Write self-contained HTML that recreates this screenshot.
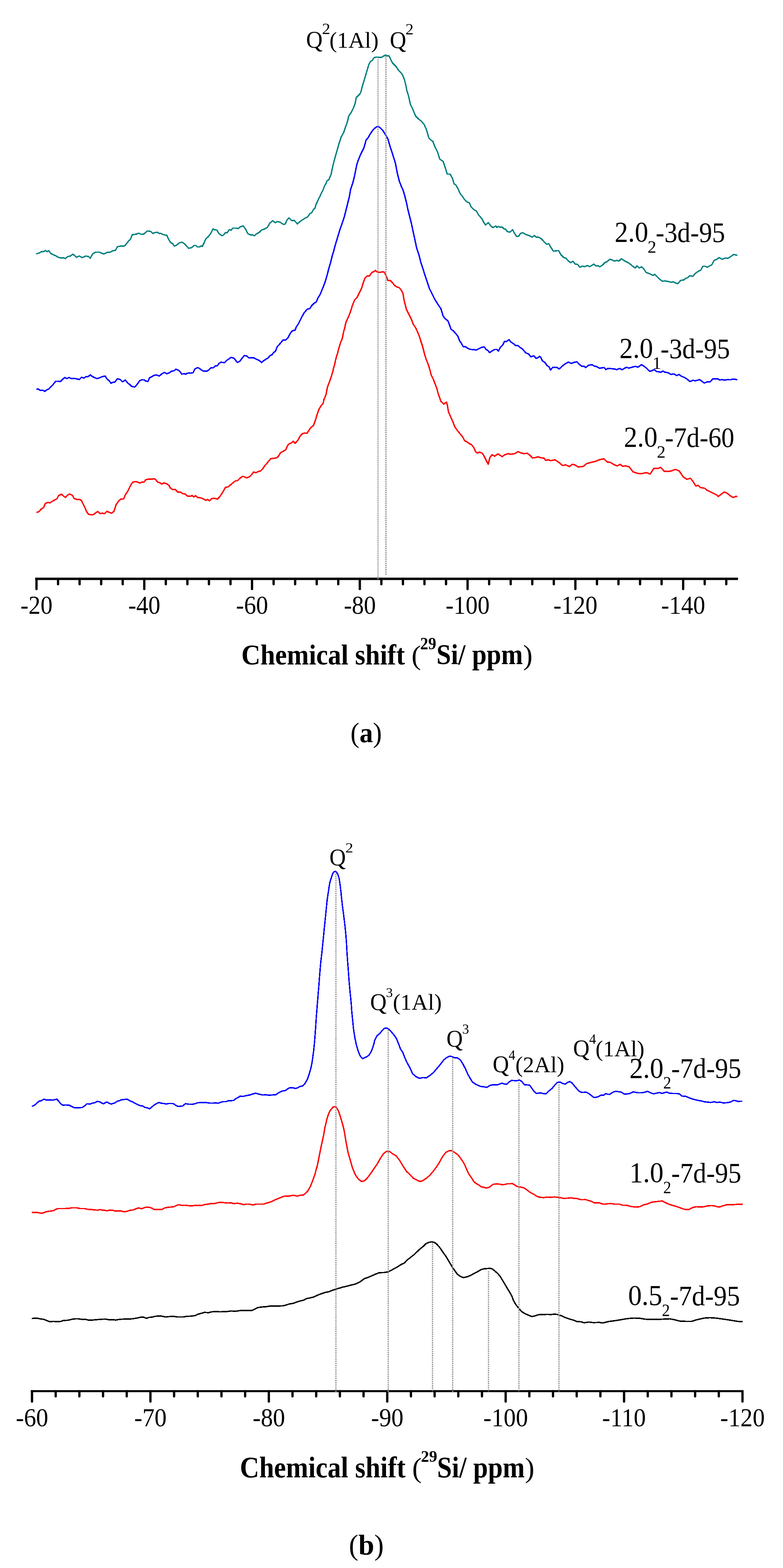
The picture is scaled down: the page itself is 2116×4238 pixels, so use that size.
<!DOCTYPE html>
<html><head><meta charset="utf-8"><title>29Si NMR spectra</title>
<style>html,body{margin:0;padding:0;background:#fff;}svg{display:block;}</style></head>
<body><svg width="2116" height="4238" viewBox="0 0 2116 4238">
<rect width="2116" height="4238" fill="#fff"/>
<line x1="95.1" y1="1564.4" x2="1994.4" y2="1564.4" stroke="#000" stroke-width="6.5" stroke-linecap="butt"/>
<line x1="98.6" y1="1564.4" x2="98.6" y2="1591.9" stroke="#000" stroke-width="6.2" stroke-linecap="round"/>
<line x1="389.9" y1="1564.4" x2="389.9" y2="1591.9" stroke="#000" stroke-width="6.2" stroke-linecap="round"/>
<line x1="681.1" y1="1564.4" x2="681.1" y2="1591.9" stroke="#000" stroke-width="6.2" stroke-linecap="round"/>
<line x1="972.4" y1="1564.4" x2="972.4" y2="1591.9" stroke="#000" stroke-width="6.2" stroke-linecap="round"/>
<line x1="1263.6" y1="1564.4" x2="1263.6" y2="1591.9" stroke="#000" stroke-width="6.2" stroke-linecap="round"/>
<line x1="1554.9" y1="1564.4" x2="1554.9" y2="1591.9" stroke="#000" stroke-width="6.2" stroke-linecap="round"/>
<line x1="1846.2" y1="1564.4" x2="1846.2" y2="1591.9" stroke="#000" stroke-width="6.2" stroke-linecap="round"/>
<line x1="156.9" y1="1564.4" x2="156.9" y2="1578.9" stroke="#000" stroke-width="6.2" stroke-linecap="round"/>
<line x1="215.1" y1="1564.4" x2="215.1" y2="1578.9" stroke="#000" stroke-width="6.2" stroke-linecap="round"/>
<line x1="273.4" y1="1564.4" x2="273.4" y2="1578.9" stroke="#000" stroke-width="6.2" stroke-linecap="round"/>
<line x1="331.6" y1="1564.4" x2="331.6" y2="1578.9" stroke="#000" stroke-width="6.2" stroke-linecap="round"/>
<line x1="448.1" y1="1564.4" x2="448.1" y2="1578.9" stroke="#000" stroke-width="6.2" stroke-linecap="round"/>
<line x1="506.4" y1="1564.4" x2="506.4" y2="1578.9" stroke="#000" stroke-width="6.2" stroke-linecap="round"/>
<line x1="564.6" y1="1564.4" x2="564.6" y2="1578.9" stroke="#000" stroke-width="6.2" stroke-linecap="round"/>
<line x1="622.9" y1="1564.4" x2="622.9" y2="1578.9" stroke="#000" stroke-width="6.2" stroke-linecap="round"/>
<line x1="739.4" y1="1564.4" x2="739.4" y2="1578.9" stroke="#000" stroke-width="6.2" stroke-linecap="round"/>
<line x1="797.6" y1="1564.4" x2="797.6" y2="1578.9" stroke="#000" stroke-width="6.2" stroke-linecap="round"/>
<line x1="855.9" y1="1564.4" x2="855.9" y2="1578.9" stroke="#000" stroke-width="6.2" stroke-linecap="round"/>
<line x1="914.1" y1="1564.4" x2="914.1" y2="1578.9" stroke="#000" stroke-width="6.2" stroke-linecap="round"/>
<line x1="1030.6" y1="1564.4" x2="1030.6" y2="1578.9" stroke="#000" stroke-width="6.2" stroke-linecap="round"/>
<line x1="1088.9" y1="1564.4" x2="1088.9" y2="1578.9" stroke="#000" stroke-width="6.2" stroke-linecap="round"/>
<line x1="1147.1" y1="1564.4" x2="1147.1" y2="1578.9" stroke="#000" stroke-width="6.2" stroke-linecap="round"/>
<line x1="1205.4" y1="1564.4" x2="1205.4" y2="1578.9" stroke="#000" stroke-width="6.2" stroke-linecap="round"/>
<line x1="1321.9" y1="1564.4" x2="1321.9" y2="1578.9" stroke="#000" stroke-width="6.2" stroke-linecap="round"/>
<line x1="1380.1" y1="1564.4" x2="1380.1" y2="1578.9" stroke="#000" stroke-width="6.2" stroke-linecap="round"/>
<line x1="1438.4" y1="1564.4" x2="1438.4" y2="1578.9" stroke="#000" stroke-width="6.2" stroke-linecap="round"/>
<line x1="1496.6" y1="1564.4" x2="1496.6" y2="1578.9" stroke="#000" stroke-width="6.2" stroke-linecap="round"/>
<line x1="1613.2" y1="1564.4" x2="1613.2" y2="1578.9" stroke="#000" stroke-width="6.2" stroke-linecap="round"/>
<line x1="1671.4" y1="1564.4" x2="1671.4" y2="1578.9" stroke="#000" stroke-width="6.2" stroke-linecap="round"/>
<line x1="1729.7" y1="1564.4" x2="1729.7" y2="1578.9" stroke="#000" stroke-width="6.2" stroke-linecap="round"/>
<line x1="1787.9" y1="1564.4" x2="1787.9" y2="1578.9" stroke="#000" stroke-width="6.2" stroke-linecap="round"/>
<line x1="1904.4" y1="1564.4" x2="1904.4" y2="1578.9" stroke="#000" stroke-width="6.2" stroke-linecap="round"/>
<line x1="1962.7" y1="1564.4" x2="1962.7" y2="1578.9" stroke="#000" stroke-width="6.2" stroke-linecap="round"/>
<line x1="83.2" y1="3760.0" x2="2009.0" y2="3760.0" stroke="#000" stroke-width="5.5" stroke-linecap="butt"/>
<line x1="86.5" y1="3760.0" x2="86.5" y2="3788.0" stroke="#000" stroke-width="6.2" stroke-linecap="round"/>
<line x1="406.5" y1="3760.0" x2="406.5" y2="3788.0" stroke="#000" stroke-width="6.2" stroke-linecap="round"/>
<line x1="726.5" y1="3760.0" x2="726.5" y2="3788.0" stroke="#000" stroke-width="6.2" stroke-linecap="round"/>
<line x1="1046.5" y1="3760.0" x2="1046.5" y2="3788.0" stroke="#000" stroke-width="6.2" stroke-linecap="round"/>
<line x1="1366.5" y1="3760.0" x2="1366.5" y2="3788.0" stroke="#000" stroke-width="6.2" stroke-linecap="round"/>
<line x1="1686.5" y1="3760.0" x2="1686.5" y2="3788.0" stroke="#000" stroke-width="6.2" stroke-linecap="round"/>
<line x1="2006.5" y1="3760.0" x2="2006.5" y2="3788.0" stroke="#000" stroke-width="6.2" stroke-linecap="round"/>
<line x1="150.5" y1="3760.0" x2="150.5" y2="3774.0" stroke="#000" stroke-width="6.2" stroke-linecap="round"/>
<line x1="214.5" y1="3760.0" x2="214.5" y2="3774.0" stroke="#000" stroke-width="6.2" stroke-linecap="round"/>
<line x1="278.5" y1="3760.0" x2="278.5" y2="3774.0" stroke="#000" stroke-width="6.2" stroke-linecap="round"/>
<line x1="342.5" y1="3760.0" x2="342.5" y2="3774.0" stroke="#000" stroke-width="6.2" stroke-linecap="round"/>
<line x1="470.5" y1="3760.0" x2="470.5" y2="3774.0" stroke="#000" stroke-width="6.2" stroke-linecap="round"/>
<line x1="534.5" y1="3760.0" x2="534.5" y2="3774.0" stroke="#000" stroke-width="6.2" stroke-linecap="round"/>
<line x1="598.5" y1="3760.0" x2="598.5" y2="3774.0" stroke="#000" stroke-width="6.2" stroke-linecap="round"/>
<line x1="662.5" y1="3760.0" x2="662.5" y2="3774.0" stroke="#000" stroke-width="6.2" stroke-linecap="round"/>
<line x1="790.5" y1="3760.0" x2="790.5" y2="3774.0" stroke="#000" stroke-width="6.2" stroke-linecap="round"/>
<line x1="854.5" y1="3760.0" x2="854.5" y2="3774.0" stroke="#000" stroke-width="6.2" stroke-linecap="round"/>
<line x1="918.5" y1="3760.0" x2="918.5" y2="3774.0" stroke="#000" stroke-width="6.2" stroke-linecap="round"/>
<line x1="982.5" y1="3760.0" x2="982.5" y2="3774.0" stroke="#000" stroke-width="6.2" stroke-linecap="round"/>
<line x1="1110.5" y1="3760.0" x2="1110.5" y2="3774.0" stroke="#000" stroke-width="6.2" stroke-linecap="round"/>
<line x1="1174.5" y1="3760.0" x2="1174.5" y2="3774.0" stroke="#000" stroke-width="6.2" stroke-linecap="round"/>
<line x1="1238.5" y1="3760.0" x2="1238.5" y2="3774.0" stroke="#000" stroke-width="6.2" stroke-linecap="round"/>
<line x1="1302.5" y1="3760.0" x2="1302.5" y2="3774.0" stroke="#000" stroke-width="6.2" stroke-linecap="round"/>
<line x1="1430.5" y1="3760.0" x2="1430.5" y2="3774.0" stroke="#000" stroke-width="6.2" stroke-linecap="round"/>
<line x1="1494.5" y1="3760.0" x2="1494.5" y2="3774.0" stroke="#000" stroke-width="6.2" stroke-linecap="round"/>
<line x1="1558.5" y1="3760.0" x2="1558.5" y2="3774.0" stroke="#000" stroke-width="6.2" stroke-linecap="round"/>
<line x1="1622.5" y1="3760.0" x2="1622.5" y2="3774.0" stroke="#000" stroke-width="6.2" stroke-linecap="round"/>
<line x1="1750.5" y1="3760.0" x2="1750.5" y2="3774.0" stroke="#000" stroke-width="6.2" stroke-linecap="round"/>
<line x1="1814.5" y1="3760.0" x2="1814.5" y2="3774.0" stroke="#000" stroke-width="6.2" stroke-linecap="round"/>
<line x1="1878.5" y1="3760.0" x2="1878.5" y2="3774.0" stroke="#000" stroke-width="6.2" stroke-linecap="round"/>
<line x1="1942.5" y1="3760.0" x2="1942.5" y2="3774.0" stroke="#000" stroke-width="6.2" stroke-linecap="round"/>
<path d="M97.8 686.2 L105.6 684.0 L113.3 679.6 L118.0 680.2 L122.7 677.1 L127.3 680.2 L132.0 677.8 L136.7 684.6 L144.4 688.6 L152.2 692.1 L156.9 695.2 L163.1 697.0 L172.4 697.0 L177.1 698.9 L181.8 693.9 L189.5 692.1 L197.3 687.1 L206.6 695.2 L214.4 692.1 L222.2 696.4 L231.5 692.1 L239.3 693.3 L244.0 697.7 L250.2 686.5 L258.0 681.5 L268.8 681.5 L273.5 684.0 L281.3 686.5 L289.1 682.4 L298.4 681.5 L304.6 677.8 L312.4 676.5 L317.1 667.2 L326.4 664.7 L335.7 664.7 L338.8 662.8 L348.2 650.4 L352.8 646.0 L357.5 634.2 L368.4 633.0 L374.6 630.2 L382.4 633.6 L388.6 632.7 L397.9 624.3 L407.3 625.5 L413.5 631.1 L418.1 628.6 L425.9 628.0 L430.6 631.1 L433.7 630.5 L441.5 634.2 L450.8 636.1 L457.0 649.1 L461.7 656.0 L466.4 658.5 L471.0 665.3 L477.2 662.8 L483.5 657.5 L486.2 655.8 L492.4 654.9 L498.7 658.9 L503.3 664.2 L509.5 671.0 L517.3 669.5 L525.1 663.3 L529.8 663.6 L533.5 667.6 L539.1 667.3 L543.8 664.8 L546.9 665.8 L551.5 656.4 L556.2 645.5 L562.4 640.2 L570.2 630.0 L575.8 618.5 L579.5 621.0 L585.8 621.6 L592.0 631.5 L599.8 637.1 L604.4 634.7 L609.1 629.1 L613.7 629.1 L620.0 620.3 L624.6 622.2 L629.3 616.6 L638.6 616.6 L643.3 617.9 L649.5 612.9 L657.3 610.4 L663.5 619.1 L669.7 631.5 L677.5 635.3 L682.2 634.7 L687.8 637.1 L691.5 633.1 L699.3 629.1 L707.1 621.6 L713.3 619.7 L722.6 614.7 L728.8 603.5 L736.6 596.7 L744.4 602.0 L749.1 598.9 L756.8 600.4 L766.2 606.7 L770.8 605.4 L775.5 594.8 L781.1 588.9 L787.9 595.8 L795.7 596.1 L803.5 605.1 L812.8 597.3 L822.1 591.1 L831.5 586.1 L837.7 577.1 L842.4 574.9 L847.0 566.2 L849.9 563.9 L852.0 561.4 L853.0 555.8 L854.8 550.9 L857.3 545.9 L859.8 540.3 L861.7 535.9 L864.2 531.6 L866.7 526.0 L868.5 521.6 L871.6 516.0 L874.1 511.1 L876.0 504.8 L878.5 499.9 L881.6 494.9 L882.8 489.9 L885.9 487.4 L889.1 485.6 L890.9 480.0 L892.8 475.6 L894.7 471.2 L899.1 450.4 L903.8 431.7 L910.0 409.9 L916.2 388.2 L922.4 369.5 L928.6 358.6 L933.3 344.6 L938.0 332.2 L942.6 313.5 L948.9 304.2 L955.1 291.7 L959.8 279.3 L962.9 263.7 L972.2 254.4 L975.3 248.2 L978.4 235.8 L983.1 220.2 L987.7 204.7 L992.4 189.1 L997.1 173.5 L1000.2 167.3 L1006.4 162.7 L1011.1 155.5 L1017.3 154.3 L1023.5 154.9 L1031.3 154.9 L1036.0 151.8 L1042.2 148.7 L1046.8 151.2 L1051.5 151.2 L1054.6 158.0 L1060.8 170.4 L1070.2 179.8 L1076.4 189.1 L1084.2 196.9 L1088.8 204.7 L1093.5 217.1 L1096.6 229.5 L1099.7 245.1 L1104.4 260.6 L1109.1 282.4 L1115.3 294.9 L1123.0 313.5 L1132.4 322.8 L1138.6 327.5 L1146.4 336.8 L1152.6 350.8 L1158.8 372.6 L1165.0 378.8 L1169.7 381.9 L1174.4 394.4 L1182.1 409.9 L1188.4 430.2 L1197.7 436.4 L1202.4 450.4 L1208.6 470.6 L1216.4 470.6 L1222.6 481.5 L1227.2 497.0 L1231.9 500.1 L1238.9 512.4 L1243.5 523.3 L1249.8 531.1 L1256.0 540.4 L1262.2 545.7 L1268.4 548.2 L1273.1 559.1 L1280.9 566.9 L1287.1 570.0 L1293.3 580.9 L1302.6 591.7 L1307.3 601.1 L1312.0 607.9 L1319.8 601.7 L1327.5 612.0 L1332.2 615.1 L1340.0 611.0 L1343.1 615.1 L1346.2 612.0 L1352.4 614.4 L1357.1 613.5 L1361.7 618.2 L1366.4 619.7 L1371.1 626.0 L1378.8 627.5 L1385.1 620.4 L1389.7 629.1 L1396.0 639.3 L1402.2 637.8 L1406.8 630.6 L1413.1 629.1 L1420.8 633.7 L1430.2 636.8 L1437.9 640.9 L1444.2 636.8 L1448.8 640.9 L1455.1 640.9 L1462.8 645.2 L1470.6 653.3 L1476.8 660.2 L1483.0 658.6 L1489.3 669.5 L1495.5 678.8 L1503.3 677.9 L1509.5 677.3 L1515.7 688.2 L1523.5 695.9 L1529.7 698.1 L1535.9 705.3 L1542.1 709.9 L1548.4 706.2 L1554.6 713.7 L1560.8 714.6 L1567.0 722.4 L1573.3 719.3 L1579.5 720.8 L1587.2 717.7 L1593.5 720.8 L1604.7 713.9 L1610.9 718.9 L1615.6 718.0 L1621.2 721.1 L1628.0 716.4 L1634.2 710.2 L1640.4 707.1 L1648.2 700.9 L1654.4 702.4 L1659.1 705.5 L1666.9 704.0 L1673.1 705.5 L1679.3 699.3 L1684.0 702.4 L1690.2 706.5 L1698.0 710.2 L1702.6 713.3 L1708.9 718.9 L1716.6 724.2 L1721.3 718.9 L1727.5 724.2 L1733.7 721.1 L1740.0 727.3 L1746.2 736.6 L1755.5 739.8 L1764.9 744.4 L1769.5 741.3 L1775.7 747.5 L1783.5 755.3 L1789.7 760.0 L1796.0 759.3 L1805.3 760.6 L1814.6 763.1 L1819.3 761.5 L1825.5 764.6 L1831.7 766.8 L1839.5 757.8 L1847.3 756.9 L1853.5 752.2 L1858.2 750.6 L1864.4 745.3 L1872.2 746.9 L1879.9 738.2 L1889.3 732.0 L1893.9 730.4 L1899.2 719.5 L1906.4 719.5 L1911.0 722.6 L1917.3 718.9 L1923.5 715.8 L1929.7 704.0 L1935.9 701.5 L1943.7 696.2 L1951.5 700.9 L1960.8 697.1 L1967.0 698.4 L1976.4 692.2 L1982.6 687.8 L1988.8 689.1 L1992.5 690.3" fill="none" stroke="#008080" stroke-width="3.7" stroke-linejoin="round" stroke-linecap="butt" shape-rendering="crispEdges"/>
<path d="M98.7 1053.1 L102.4 1050.6 L108.7 1055.3 L114.9 1054.4 L121.1 1057.8 L127.3 1053.1 L132.0 1051.3 L136.7 1046.0 L141.3 1041.9 L145.4 1036.6 L150.7 1030.4 L156.9 1030.4 L163.1 1031.4 L169.3 1025.1 L175.5 1020.2 L180.2 1023.6 L186.4 1020.2 L192.6 1023.3 L198.9 1022.6 L205.1 1023.6 L214.4 1025.8 L220.6 1019.5 L226.9 1022.0 L233.1 1017.7 L237.7 1018.0 L244.0 1013.3 L248.6 1017.0 L254.9 1020.2 L262.6 1023.6 L268.8 1021.1 L276.6 1018.0 L284.4 1016.4 L289.1 1024.2 L295.3 1029.5 L300.0 1036.0 L304.6 1033.5 L310.8 1032.6 L317.1 1023.6 L324.8 1025.8 L331.1 1032.0 L338.8 1027.3 L345.1 1035.1 L351.3 1039.8 L355.9 1044.4 L363.7 1046.0 L369.9 1039.8 L377.7 1028.9 L383.9 1026.4 L388.6 1026.4 L393.3 1029.5 L399.5 1031.4 L404.2 1021.1 L410.4 1018.0 L415.0 1014.9 L422.8 1013.3 L430.6 1016.4 L436.8 1010.8 L444.6 1006.5 L450.8 1010.2 L458.6 1007.1 L463.3 1003.4 L469.5 1002.4 L475.7 997.8 L483.5 1001.5 L486.2 1004.0 L490.9 1010.8 L498.7 1010.2 L502.4 1011.7 L504.9 1009.2 L511.1 1008.0 L515.8 1008.6 L522.0 1007.1 L526.7 997.1 L532.9 994.0 L537.5 994.6 L543.8 999.6 L550.0 1003.3 L559.3 1003.3 L565.5 998.7 L570.2 994.0 L574.9 994.6 L579.5 991.5 L582.6 989.0 L587.3 988.4 L592.0 982.2 L596.6 979.1 L602.9 979.7 L607.5 979.7 L612.2 974.4 L616.9 971.3 L624.6 966.0 L632.4 968.2 L637.1 974.4 L641.7 979.7 L648.0 976.6 L654.2 968.2 L660.4 961.0 L666.6 962.0 L672.8 967.6 L679.1 966.6 L685.3 966.6 L691.5 970.4 L697.7 972.8 L702.4 976.0 L707.1 979.7 L713.3 974.4 L719.5 970.4 L725.7 966.6 L728.8 962.0 L735.1 958.8 L739.7 952.6 L744.4 949.5 L749.1 937.1 L753.7 932.4 L761.5 923.1 L764.6 919.3 L772.4 919.0 L778.6 912.2 L783.3 902.9 L786.4 898.2 L791.0 893.5 L797.3 892.9 L800.4 884.2 L806.6 874.9 L811.3 865.5 L815.9 856.2 L822.1 845.3 L829.9 836.0 L837.7 833.5 L842.4 826.0 L848.6 819.8 L854.8 815.8 L859.5 804.9 L865.7 794.9 L874.2 773.7 L878.9 761.3 L883.5 745.7 L888.2 727.1 L892.9 711.5 L897.5 692.8 L902.2 677.3 L905.3 664.9 L910.0 649.3 L914.7 633.7 L919.3 618.2 L924.0 605.8 L930.2 587.1 L934.9 568.4 L939.5 549.8 L944.2 531.1 L947.3 512.4 L953.5 493.9 L958.2 475.3 L961.3 459.7 L964.4 444.2 L967.5 434.8 L973.7 419.3 L983.1 400.6 L989.3 378.8 L995.5 371.1 L1001.7 360.2 L1009.5 349.3 L1017.3 343.1 L1022.0 342.1 L1026.6 344.6 L1034.4 352.4 L1042.2 364.8 L1048.4 375.7 L1054.6 397.5 L1060.8 416.2 L1068.6 441.0 L1073.3 465.9 L1079.5 490.8 L1085.7 506.4 L1088.8 512.4 L1093.5 528.0 L1098.2 546.7 L1102.8 568.4 L1107.5 587.1 L1112.2 605.8 L1116.8 627.5 L1121.5 649.3 L1126.2 671.1 L1132.4 689.7 L1137.0 708.4 L1143.3 727.1 L1147.9 742.6 L1154.2 761.3 L1160.4 779.9 L1166.6 792.4 L1174.4 807.9 L1182.1 820.4 L1191.5 834.4 L1197.7 854.6 L1202.4 860.8 L1210.1 867.0 L1210.9 868.2 L1214.0 876.0 L1218.7 890.0 L1224.9 894.0 L1231.1 900.9 L1237.3 908.6 L1242.0 921.1 L1246.7 927.3 L1251.3 936.6 L1257.5 936.6 L1263.8 941.3 L1271.5 944.4 L1280.9 945.0 L1287.1 946.0 L1293.3 942.9 L1301.1 939.1 L1308.9 937.6 L1313.5 944.4 L1318.2 946.9 L1322.9 953.1 L1330.6 948.1 L1336.9 944.4 L1343.1 944.4 L1346.8 949.1 L1352.4 938.2 L1358.6 932.6 L1363.3 922.6 L1369.5 922.6 L1375.7 918.0 L1380.4 924.2 L1386.6 928.2 L1394.4 934.5 L1399.1 933.5 L1405.3 939.1 L1411.5 942.9 L1420.8 953.7 L1428.6 956.9 L1434.8 964.6 L1442.6 961.5 L1448.8 968.7 L1453.5 966.8 L1458.2 963.1 L1461.3 965.6 L1465.9 975.5 L1472.2 979.3 L1478.4 988.0 L1484.6 992.6 L1487.7 1000.4 L1493.9 992.6 L1504.8 992.6 L1511.0 997.3 L1517.3 991.7 L1525.0 984.9 L1535.9 978.6 L1543.7 982.4 L1551.5 979.3 L1559.3 978.0 L1565.5 984.9 L1573.3 990.5 L1577.9 989.5 L1582.6 993.6 L1590.4 987.3 L1600.0 985.5 L1606.2 989.6 L1612.4 990.8 L1620.2 995.5 L1628.0 993.9 L1632.7 993.3 L1637.3 998.9 L1643.5 995.5 L1651.3 996.4 L1659.1 997.0 L1666.9 998.9 L1674.7 995.8 L1680.9 999.5 L1687.1 995.8 L1693.3 992.7 L1699.5 994.9 L1707.3 992.7 L1716.6 990.2 L1724.4 992.4 L1733.7 985.5 L1743.1 991.8 L1749.3 997.0 L1755.5 1003.6 L1761.7 1002.0 L1768.0 998.9 L1774.2 1004.2 L1780.4 1004.8 L1786.6 1006.4 L1791.3 1002.6 L1796.0 1005.8 L1805.3 1007.3 L1813.1 1012.0 L1820.8 1010.4 L1828.6 1015.1 L1834.8 1012.0 L1841.1 1016.6 L1848.8 1019.8 L1856.6 1024.4 L1864.4 1031.3 L1872.2 1028.1 L1879.9 1029.1 L1890.8 1026.0 L1897.0 1030.6 L1903.3 1035.3 L1911.0 1032.2 L1918.8 1032.2 L1926.6 1023.8 L1939.0 1023.8 L1945.3 1026.9 L1951.5 1026.0 L1957.7 1027.5 L1967.0 1026.0 L1973.3 1026.6 L1981.0 1024.4 L1987.2 1025.3 L1992.5 1026.6" fill="none" stroke="#0000ff" stroke-width="3.8" stroke-linejoin="round" stroke-linecap="butt" shape-rendering="crispEdges"/>
<path d="M98.7 1385.5 L105.6 1382.4 L111.8 1375.6 L118.0 1371.5 L122.7 1360.6 L128.9 1358.1 L135.1 1359.1 L141.3 1355.0 L147.5 1351.3 L153.8 1348.2 L158.4 1339.5 L166.2 1335.8 L172.4 1341.4 L177.1 1344.5 L181.8 1338.9 L188.0 1335.1 L195.8 1338.9 L200.4 1347.6 L208.2 1349.8 L216.0 1349.8 L220.6 1353.8 L225.3 1363.7 L230.0 1373.1 L234.6 1384.0 L239.3 1390.2 L248.6 1391.7 L253.3 1390.2 L259.5 1385.5 L264.2 1382.4 L270.4 1388.0 L276.6 1387.1 L282.8 1388.6 L289.1 1381.8 L295.3 1384.9 L301.5 1387.1 L307.7 1382.4 L314.0 1363.7 L321.7 1352.9 L326.4 1349.1 L334.2 1348.2 L338.8 1337.3 L345.1 1328.0 L349.7 1318.6 L354.4 1309.3 L359.1 1303.1 L366.8 1301.5 L371.5 1303.1 L377.7 1305.3 L383.9 1303.1 L390.2 1302.5 L393.3 1296.9 L399.5 1295.3 L405.7 1294.7 L410.4 1295.3 L416.6 1293.8 L421.3 1296.9 L425.9 1303.1 L432.1 1304.7 L436.8 1308.4 L443.0 1305.3 L450.8 1307.8 L457.0 1312.4 L460.1 1318.6 L466.4 1323.3 L474.1 1323.3 L480.4 1330.2 L487.8 1330.0 L494.0 1334.3 L500.2 1335.3 L506.4 1340.6 L514.2 1341.5 L518.9 1339.3 L523.5 1343.0 L528.2 1339.9 L534.4 1344.6 L542.2 1345.5 L550.0 1348.6 L556.2 1352.4 L560.9 1349.9 L566.5 1353.9 L571.8 1347.7 L579.5 1346.8 L587.3 1349.3 L593.5 1343.0 L599.8 1333.7 L604.4 1325.9 L609.1 1317.5 L616.9 1315.7 L623.1 1310.4 L632.4 1302.6 L637.1 1299.5 L641.7 1299.5 L648.0 1293.3 L654.2 1288.0 L660.4 1288.6 L666.6 1291.7 L674.4 1288.6 L679.1 1284.0 L685.3 1275.6 L691.5 1277.7 L697.7 1274.6 L704.0 1273.1 L710.2 1266.8 L716.4 1257.5 L721.1 1252.8 L725.7 1246.6 L731.9 1239.5 L738.2 1239.2 L747.5 1237.3 L752.2 1233.6 L758.4 1223.3 L764.6 1220.2 L772.4 1215.5 L777.0 1204.6 L781.7 1199.3 L787.9 1196.9 L792.6 1192.2 L797.3 1198.4 L805.0 1190.0 L811.3 1178.2 L817.5 1172.0 L823.7 1170.4 L829.9 1171.0 L836.1 1161.1 L840.8 1154.9 L847.0 1150.2 L851.7 1137.8 L856.4 1122.2 L861.0 1108.2 L867.2 1097.3 L873.5 1089.5 L875.3 1080.1 L878.9 1072.0 L881.4 1065.0 L882.9 1055.9 L884.9 1046.8 L887.4 1039.7 L890.5 1031.7 L893.5 1023.6 L896.5 1013.5 L899.5 1004.4 L901.6 994.3 L904.6 984.2 L906.6 974.1 L909.6 963.0 L912.7 952.9 L915.2 942.9 L918.2 932.8 L920.7 924.7 L923.8 918.6 L925.8 910.6 L927.8 900.5 L929.8 892.4 L931.8 886.3 L933.4 877.2 L935.4 870.2 L938.4 863.1 L940.9 858.1 L943.4 852.0 L947.3 842.1 L952.0 826.6 L958.2 811.0 L964.4 804.8 L970.6 792.4 L976.9 779.9 L981.5 764.4 L986.2 751.9 L992.4 745.7 L998.6 745.7 L1004.9 736.4 L1011.1 733.9 L1014.2 730.8 L1018.8 734.8 L1023.5 736.4 L1029.7 735.5 L1036.0 734.8 L1039.1 736.4 L1043.7 745.7 L1048.4 758.2 L1054.6 758.2 L1060.8 764.4 L1065.5 770.6 L1071.7 775.3 L1077.9 776.8 L1082.6 781.5 L1088.8 792.4 L1091.9 811.0 L1095.1 823.5 L1098.2 835.9 L1102.8 845.3 L1107.5 854.6 L1112.2 863.9 L1116.8 876.4 L1123.0 885.7 L1124.9 889.3 L1131.1 903.3 L1135.8 917.3 L1142.0 936.0 L1146.7 954.7 L1151.3 970.2 L1157.5 985.8 L1162.2 1001.3 L1165.3 1013.7 L1171.5 1026.2 L1176.2 1038.6 L1180.9 1051.1 L1184.0 1063.5 L1188.6 1076.0 L1191.8 1085.3 L1199.5 1092.1 L1206.4 1086.8 L1208.9 1094.6 L1212.0 1113.3 L1218.2 1127.3 L1224.4 1141.3 L1229.1 1153.7 L1236.9 1164.6 L1244.6 1173.9 L1250.9 1181.7 L1255.5 1191.0 L1261.7 1194.2 L1268.0 1198.8 L1274.2 1201.9 L1280.4 1209.7 L1285.1 1220.6 L1289.7 1224.6 L1296.0 1222.1 L1303.7 1225.3 L1308.4 1233.0 L1314.6 1245.5 L1319.3 1254.8 L1324.0 1236.1 L1330.2 1229.0 L1336.4 1233.0 L1345.7 1226.8 L1351.9 1230.9 L1357.5 1234.0 L1364.4 1229.0 L1373.7 1226.2 L1379.9 1227.7 L1390.8 1226.2 L1400.2 1220.6 L1406.4 1223.7 L1414.2 1225.9 L1425.0 1225.3 L1431.3 1229.9 L1439.0 1237.7 L1445.3 1237.1 L1454.6 1234.6 L1460.8 1237.1 L1470.1 1238.3 L1474.8 1244.5 L1481.0 1242.4 L1487.2 1244.5 L1488.1 1244.9 L1500.2 1242.9 L1510.3 1249.8 L1520.4 1258.3 L1528.5 1256.2 L1538.6 1261.1 L1546.7 1255.0 L1552.8 1256.2 L1562.9 1262.3 L1577.0 1260.3 L1585.1 1253.0 L1597.3 1249.8 L1609.4 1246.9 L1621.5 1242.1 L1631.6 1240.1 L1641.7 1249.0 L1649.8 1249.8 L1659.9 1256.2 L1668.0 1259.1 L1676.1 1255.0 L1682.2 1260.3 L1690.3 1259.1 L1700.4 1261.9 L1710.5 1275.2 L1722.6 1279.3 L1732.7 1280.5 L1746.9 1277.3 L1757.0 1281.3 L1767.1 1265.9 L1779.2 1265.9 L1785.3 1263.1 L1795.4 1274.0 L1807.5 1274.4 L1815.6 1272.4 L1825.7 1268.4 L1835.8 1273.2 L1845.9 1288.6 L1856.0 1295.5 L1866.2 1292.6 L1874.2 1303.5 L1880.3 1313.7 L1886.4 1311.6 L1892.4 1317.7 L1904.6 1319.7 L1910.6 1325.0 L1920.7 1329.8 L1928.8 1333.9 L1936.9 1337.9 L1941.0 1342.0 L1949.1 1335.9 L1957.1 1329.8 L1965.2 1333.1 L1973.3 1339.9 L1981.4 1344.8 L1989.5 1341.2 L1992.7 1342.8" fill="none" stroke="#ff0000" stroke-width="3.8" stroke-linejoin="round" stroke-linecap="butt" shape-rendering="crispEdges"/>
<path d="M86.2 2990.2 L91.8 2988.0 L96.4 2984.6 L101.1 2980.2 L105.8 2976.2 L110.4 2975.6 L115.1 2973.1 L119.1 2970.9 L124.4 2973.1 L132.2 2973.1 L143.1 2973.4 L147.8 2972.2 L153.4 2970.9 L158.6 2976.2 L163.3 2982.4 L169.5 2987.1 L177.3 2986.5 L186.6 2987.1 L192.9 2990.2 L200.6 2993.9 L210.0 2994.2 L222.4 2993.3 L227.1 2990.2 L234.9 2983.4 L244.2 2984.0 L248.8 2981.8 L256.6 2980.2 L262.8 2976.8 L269.1 2977.8 L275.3 2981.5 L280.0 2983.4 L284.6 2980.2 L289.3 2978.4 L294.0 2981.5 L300.2 2984.0 L309.5 2981.5 L317.3 2976.2 L323.5 2974.7 L329.7 2972.2 L337.5 2971.5 L343.7 2970.9 L349.9 2974.7 L359.3 2978.7 L365.5 2982.4 L373.3 2986.2 L379.5 2988.6 L385.7 2989.3 L391.9 2993.3 L398.1 2993.9 L404.4 2997.0 L410.6 2991.8 L416.8 2986.5 L423.0 2983.0 L429.3 2979.9 L437.0 2982.1 L443.3 2982.7 L449.5 2984.0 L455.7 2982.4 L465.0 2982.4 L470.0 2983.7 L476.2 2988.4 L482.4 2990.6 L493.3 2989.3 L501.1 2983.1 L510.4 2984.4 L519.8 2984.7 L527.5 2983.1 L533.8 2980.6 L544.7 2979.7 L557.1 2979.7 L563.3 2981.3 L575.8 2981.6 L582.0 2980.6 L588.2 2981.9 L597.5 2979.1 L603.7 2977.5 L611.5 2977.5 L616.2 2975.3 L631.7 2974.4 L638.0 2968.8 L644.2 2966.0 L648.8 2962.6 L656.6 2963.5 L664.4 2961.4 L675.3 2959.5 L683.1 2956.7 L690.8 2954.8 L697.1 2956.4 L703.3 2958.2 L711.1 2959.5 L718.8 2958.9 L726.6 2960.4 L734.4 2959.5 L745.3 2958.9 L753.0 2953.6 L762.4 2948.9 L771.7 2947.4 L777.9 2942.7 L784.2 2939.6 L791.9 2940.2 L798.1 2941.8 L804.4 2940.2 L810.6 2936.5 L818.4 2934.9 L824.6 2927.8 L830.8 2916.9 L835.5 2902.9 L840.1 2887.3 L843.3 2871.8 L844.4 2863.9 L847.9 2838.3 L850.3 2812.6 L852.6 2782.4 L854.9 2747.5 L857.3 2717.2 L859.6 2689.2 L861.9 2661.3 L864.2 2631.0 L866.6 2603.1 L870.1 2572.8 L872.4 2549.5 L874.7 2526.3 L877.0 2503.0 L879.4 2479.7 L881.7 2456.4 L884.0 2433.1 L887.5 2409.8 L891.0 2386.6 L894.5 2374.9 L899.2 2361.0 L902.7 2356.3 L906.1 2355.1 L909.6 2357.5 L913.1 2363.3 L916.6 2374.9 L919.0 2391.2 L921.3 2409.8 L923.6 2433.1 L925.9 2451.8 L928.3 2470.4 L930.6 2489.0 L932.9 2507.6 L934.6 2526.3 L936.4 2549.5 L937.6 2572.8 L939.2 2596.1 L941.1 2619.4 L942.7 2642.7 L944.6 2666.0 L946.9 2689.2 L949.2 2712.5 L950.8 2735.8 L953.2 2759.1 L955.5 2782.4 L959.2 2805.7 L963.2 2824.3 L967.8 2840.6 L972.5 2852.2 L977.2 2859.2 L980.7 2861.1 L984.1 2859.2 L990.0 2856.9 L996.9 2852.2 L1002.8 2842.9 L1007.4 2831.3 L1010.9 2819.6 L1012.4 2812.0 L1018.7 2799.5 L1026.4 2793.3 L1032.7 2785.5 L1038.9 2779.3 L1046.7 2779.3 L1051.3 2782.4 L1057.5 2788.6 L1065.3 2798.0 L1071.5 2807.3 L1077.8 2822.9 L1082.4 2835.3 L1088.6 2844.6 L1093.3 2857.1 L1099.5 2871.1 L1107.3 2885.1 L1115.1 2902.2 L1124.4 2910.0 L1133.7 2914.6 L1143.1 2912.4 L1152.4 2913.1 L1161.7 2906.8 L1171.1 2899.1 L1180.4 2888.2 L1189.7 2877.3 L1199.1 2864.9 L1206.8 2858.6 L1214.6 2854.6 L1220.8 2855.5 L1227.1 2858.6 L1236.4 2859.3 L1244.2 2864.9 L1251.9 2877.3 L1258.2 2889.7 L1264.4 2903.7 L1270.6 2914.6 L1276.8 2924.6 L1286.2 2930.8 L1298.6 2936.4 L1307.9 2937.3 L1315.7 2938.9 L1325.0 2933.3 L1334.4 2931.7 L1345.3 2931.7 L1356.1 2927.7 L1362.4 2929.5 L1368.6 2930.8 L1376.4 2924.0 L1382.6 2920.2 L1391.9 2920.8 L1395.6 2921.5 L1403.3 2919.0 L1409.5 2922.5 L1417.3 2931.8 L1425.1 2932.4 L1431.3 2933.0 L1437.5 2941.7 L1443.8 2950.5 L1450.0 2955.7 L1459.3 2953.6 L1468.6 2955.7 L1476.4 2955.7 L1482.6 2949.5 L1492.0 2941.7 L1499.8 2932.4 L1506.0 2925.6 L1513.7 2924.6 L1521.5 2928.7 L1527.7 2929.9 L1534.0 2925.6 L1540.2 2923.1 L1546.4 2927.7 L1554.2 2937.1 L1563.5 2948.0 L1569.7 2952.0 L1576.0 2952.6 L1583.7 2951.7 L1591.5 2955.7 L1599.3 2962.0 L1605.5 2966.6 L1611.7 2965.7 L1617.9 2963.5 L1624.2 2959.8 L1631.9 2959.8 L1636.6 2955.7 L1641.3 2957.3 L1647.5 2957.9 L1655.3 2952.6 L1663.0 2949.5 L1670.8 2950.5 L1678.6 2951.7 L1686.4 2956.7 L1694.2 2956.7 L1701.9 2955.7 L1711.3 2951.1 L1722.1 2953.3 L1731.5 2953.6 L1740.8 2952.6 L1750.1 2949.5 L1757.9 2953.6 L1767.2 2956.7 L1768.2 2956.1 L1774.4 2954.6 L1782.2 2953.0 L1790.0 2955.5 L1796.2 2953.0 L1802.4 2951.8 L1808.6 2954.6 L1818.0 2955.5 L1827.3 2955.5 L1835.1 2956.1 L1842.8 2962.4 L1853.7 2963.3 L1864.6 2968.0 L1874.0 2971.1 L1886.4 2974.2 L1895.7 2975.7 L1903.5 2977.9 L1911.3 2978.8 L1920.6 2979.8 L1929.9 2977.9 L1937.7 2979.8 L1945.5 2978.8 L1954.8 2981.0 L1964.2 2980.4 L1973.5 2978.8 L1982.8 2974.2 L1989.0 2975.1 L1995.3 2977.3 L1999.9 2976.4 L2006.1 2976.4" fill="none" stroke="#0000ff" stroke-width="3.7" stroke-linejoin="round" stroke-linecap="butt" shape-rendering="crispEdges"/>
<path d="M86.2 3277.0 L101.1 3277.0 L107.3 3278.6 L115.1 3278.9 L122.9 3275.8 L129.1 3274.2 L136.9 3273.3 L144.7 3272.1 L150.9 3268.6 L157.1 3266.5 L169.5 3266.5 L185.1 3266.2 L192.9 3264.6 L208.4 3264.6 L216.2 3266.5 L228.6 3266.5 L236.4 3268.6 L247.3 3269.0 L255.1 3270.2 L264.4 3270.8 L270.6 3269.3 L276.8 3270.8 L283.1 3271.1 L289.3 3272.7 L295.5 3270.8 L303.3 3270.8 L311.1 3273.3 L328.2 3273.3 L335.9 3275.5 L343.7 3273.9 L351.5 3271.1 L360.8 3270.2 L368.6 3266.5 L374.8 3264.6 L382.6 3267.1 L388.8 3264.6 L396.6 3262.4 L404.4 3263.4 L410.6 3265.5 L416.8 3269.3 L427.7 3268.6 L437.0 3269.3 L444.8 3264.9 L454.1 3263.0 L461.9 3262.4 L470.0 3261.5 L476.2 3258.4 L482.4 3256.2 L491.8 3257.8 L499.5 3257.5 L507.3 3258.4 L518.2 3259.3 L527.5 3257.8 L536.9 3257.8 L544.7 3258.4 L552.4 3255.9 L563.3 3254.4 L569.5 3252.8 L580.4 3253.1 L588.2 3250.6 L594.4 3249.7 L606.9 3250.6 L616.2 3251.6 L624.0 3250.6 L630.2 3253.1 L641.1 3252.2 L648.8 3253.1 L658.2 3255.9 L666.0 3254.4 L675.3 3254.7 L683.1 3256.8 L690.8 3254.7 L700.2 3254.4 L712.6 3254.4 L718.8 3252.2 L728.2 3249.7 L737.5 3246.0 L743.7 3242.8 L753.0 3239.1 L762.4 3235.1 L770.2 3232.6 L781.0 3232.9 L790.4 3231.0 L796.6 3231.3 L802.8 3232.9 L812.1 3230.4 L819.9 3229.8 L826.1 3224.8 L832.4 3218.0 L838.6 3207.1 L844.8 3191.5 L851.0 3174.4 L855.7 3155.8 L856.2 3156.9 L862.4 3125.8 L868.7 3094.7 L874.9 3066.7 L878.0 3047.5 L880.9 3035.8 L883.8 3023.0 L887.3 3012.5 L890.8 3004.3 L895.5 2997.3 L900.2 2992.1 L904.2 2991.3 L907.7 2992.1 L911.2 2996.2 L915.3 3004.3 L918.8 3014.8 L922.3 3026.5 L925.8 3038.1 L929.3 3052.1 L930.9 3060.4 L935.5 3088.4 L940.2 3113.3 L946.4 3135.1 L952.6 3156.9 L960.4 3175.5 L968.2 3186.4 L977.5 3193.6 L985.3 3191.1 L993.1 3183.3 L1002.4 3170.9 L1011.7 3156.9 L1019.5 3146.0 L1027.3 3132.0 L1036.6 3118.0 L1044.4 3111.8 L1052.2 3111.8 L1061.5 3118.9 L1070.8 3124.2 L1080.2 3136.6 L1089.5 3152.2 L1098.8 3166.2 L1108.2 3175.5 L1117.5 3184.9 L1126.8 3189.5 L1134.6 3193.6 L1142.4 3191.1 L1151.7 3184.9 L1161.0 3177.1 L1170.4 3166.2 L1179.7 3153.7 L1185.9 3144.4 L1195.3 3127.3 L1204.6 3114.9 L1213.9 3110.2 L1220.1 3109.6 L1226.4 3113.3 L1237.2 3121.1 L1243.5 3128.9 L1246.2 3132.7 L1252.4 3142.0 L1257.1 3151.3 L1261.8 3162.2 L1268.0 3174.7 L1274.2 3183.4 L1280.4 3193.3 L1286.7 3198.9 L1292.9 3202.0 L1300.7 3207.9 L1306.9 3208.9 L1314.7 3211.0 L1322.4 3208.9 L1327.1 3205.1 L1333.3 3200.5 L1342.6 3200.2 L1350.4 3200.5 L1356.6 3202.0 L1364.4 3201.4 L1370.6 3199.5 L1378.4 3199.5 L1384.6 3198.9 L1390.9 3202.6 L1397.1 3206.7 L1404.9 3207.9 L1415.7 3210.4 L1423.5 3215.7 L1432.8 3222.9 L1442.2 3227.5 L1450.0 3233.1 L1457.7 3235.9 L1468.6 3236.9 L1479.5 3235.6 L1488.8 3235.9 L1498.2 3235.3 L1510.6 3236.2 L1523.0 3239.0 L1533.9 3238.4 L1543.3 3237.5 L1551.0 3239.0 L1558.8 3239.3 L1569.7 3242.5 L1575.9 3242.5 L1582.1 3242.1 L1589.9 3244.6 L1597.7 3246.8 L1605.5 3250.9 L1619.5 3250.9 L1627.2 3254.0 L1632.4 3254.7 L1641.8 3253.7 L1651.1 3253.1 L1660.4 3254.4 L1674.4 3254.4 L1682.2 3257.5 L1694.7 3257.8 L1704.0 3260.6 L1716.4 3262.5 L1728.9 3261.5 L1738.2 3256.9 L1750.6 3253.7 L1761.5 3249.1 L1775.5 3247.5 L1789.5 3246.0 L1797.3 3250.0 L1806.6 3254.4 L1819.1 3258.4 L1834.6 3263.1 L1840.8 3265.6 L1850.2 3268.7 L1862.6 3268.7 L1871.9 3263.7 L1881.3 3261.5 L1893.7 3262.1 L1903.0 3261.5 L1912.4 3259.0 L1923.3 3258.4 L1931.0 3259.3 L1937.3 3261.5 L1945.0 3262.1 L1952.8 3259.3 L1965.3 3255.9 L1977.7 3256.2 L1990.1 3255.3 L2007.2 3254.7" fill="none" stroke="#ff0000" stroke-width="3.7" stroke-linejoin="round" stroke-linecap="butt" shape-rendering="crispEdges"/>
<path d="M86.2 3563.8 L93.3 3562.8 L101.1 3563.1 L108.9 3564.7 L118.2 3565.9 L126.0 3569.1 L133.8 3572.2 L144.7 3571.5 L154.0 3572.2 L164.9 3571.5 L171.1 3569.1 L183.5 3568.4 L189.8 3566.9 L196.0 3565.3 L205.3 3564.4 L213.1 3564.7 L219.3 3565.9 L231.7 3565.9 L238.0 3567.8 L250.4 3567.8 L259.7 3566.9 L272.2 3565.9 L284.6 3565.3 L294.0 3566.9 L306.4 3566.9 L312.6 3567.8 L323.5 3565.9 L334.4 3565.3 L349.9 3565.3 L362.4 3563.8 L371.7 3562.2 L381.0 3560.0 L387.3 3559.7 L391.9 3561.6 L396.0 3563.1 L402.8 3560.7 L412.1 3559.7 L419.9 3557.5 L433.9 3556.9 L441.7 3558.2 L447.9 3559.7 L455.7 3558.5 L470.0 3557.9 L479.3 3559.5 L494.9 3559.5 L504.2 3557.9 L516.7 3557.3 L527.5 3555.7 L535.3 3552.0 L544.7 3549.5 L552.4 3547.0 L563.3 3548.0 L572.6 3545.5 L585.1 3544.9 L594.4 3545.5 L613.1 3544.9 L625.5 3543.3 L634.9 3544.2 L647.3 3542.4 L656.6 3541.7 L669.1 3541.7 L681.5 3541.7 L687.7 3538.6 L697.1 3534.0 L709.5 3532.4 L718.8 3531.8 L728.2 3530.2 L740.6 3529.9 L753.0 3529.9 L765.5 3529.3 L774.8 3526.8 L781.0 3524.6 L793.5 3522.5 L799.7 3520.0 L809.0 3516.9 L821.5 3513.7 L827.7 3510.0 L837.0 3508.1 L846.4 3506.0 L855.7 3501.9 L861.9 3499.1 L869.3 3496.4 L878.7 3493.3 L889.5 3491.1 L898.9 3487.1 L908.2 3484.0 L917.5 3481.5 L926.9 3478.7 L937.8 3476.2 L947.1 3473.7 L959.5 3470.9 L968.9 3466.9 L975.1 3463.1 L984.4 3456.0 L993.7 3452.9 L1006.2 3447.6 L1015.5 3443.5 L1024.9 3439.8 L1037.3 3439.5 L1046.6 3437.9 L1056.0 3434.2 L1065.3 3428.9 L1074.6 3423.9 L1084.0 3417.7 L1093.3 3413.4 L1099.5 3406.2 L1108.8 3399.1 L1118.2 3391.6 L1127.5 3382.9 L1133.7 3376.7 L1143.0 3369.5 L1150.8 3361.7 L1158.6 3358.0 L1166.4 3356.4 L1174.2 3358.0 L1180.4 3362.7 L1189.7 3373.5 L1195.9 3382.9 L1205.3 3395.9 L1214.6 3411.5 L1222.4 3424.9 L1230.1 3435.8 L1236.4 3444.5 L1244.1 3449.8 L1251.9 3452.9 L1254.0 3452.9 L1263.3 3450.7 L1272.7 3446.7 L1282.0 3441.4 L1291.3 3436.7 L1300.7 3431.1 L1310.0 3428.9 L1317.8 3428.6 L1324.0 3428.0 L1330.2 3429.5 L1338.0 3435.8 L1345.8 3442.9 L1352.0 3450.4 L1358.2 3460.7 L1364.4 3470.9 L1370.6 3481.5 L1376.9 3491.8 L1383.1 3502.6 L1387.7 3515.1 L1394.0 3526.0 L1401.7 3535.9 L1409.5 3544.6 L1417.3 3549.9 L1426.6 3554.0 L1437.5 3558.6 L1446.8 3556.1 L1456.2 3553.3 L1467.1 3553.3 L1479.5 3552.4 L1488.8 3553.0 L1498.2 3551.8 L1507.5 3553.0 L1516.8 3556.1 L1527.7 3561.1 L1538.6 3564.9 L1549.5 3568.0 L1558.8 3571.7 L1569.7 3572.6 L1579.0 3575.1 L1591.5 3573.3 L1603.9 3574.8 L1619.5 3574.2 L1628.8 3575.7 L1632.4 3574.9 L1644.9 3571.8 L1663.5 3569.3 L1682.2 3566.2 L1694.7 3564.0 L1713.3 3562.5 L1728.9 3563.1 L1744.4 3565.6 L1760.0 3566.2 L1775.5 3566.2 L1794.2 3565.3 L1809.7 3564.6 L1822.2 3566.8 L1837.7 3570.9 L1856.4 3571.5 L1868.8 3571.5 L1878.2 3568.4 L1890.6 3565.3 L1903.0 3562.5 L1918.6 3561.5 L1934.2 3562.5 L1949.7 3564.6 L1965.3 3566.8 L1980.8 3569.3 L1993.3 3571.5 L2007.2 3572.4" fill="none" stroke="#000000" stroke-width="3.7" stroke-linejoin="round" stroke-linecap="butt" shape-rendering="crispEdges"/>
<line x1="1021.5" y1="159.5" x2="1021.5" y2="1567.0" stroke="#999999" stroke-width="2.7" stroke-dasharray="4.2 1.5" stroke-linecap="butt"/>
<line x1="1043.0" y1="154.0" x2="1043.0" y2="1554.0" stroke="#999999" stroke-width="4.2" stroke-dasharray="0.1 5.7" stroke-linecap="round"/>
<line x1="907.8" y1="2361.0" x2="907.8" y2="3762.0" stroke="#999999" stroke-width="3.6" stroke-dasharray="3.6 2.2" stroke-linecap="butt"/>
<line x1="1049.2" y1="2784.0" x2="1049.2" y2="3762.0" stroke="#999999" stroke-width="3.6" stroke-dasharray="3.6 2.2" stroke-linecap="butt"/>
<line x1="1168.9" y1="3361.0" x2="1168.9" y2="3762.0" stroke="#999999" stroke-width="3.6" stroke-dasharray="3.6 2.2" stroke-linecap="butt"/>
<line x1="1223.3" y1="2860.0" x2="1223.3" y2="3762.0" stroke="#999999" stroke-width="3.6" stroke-dasharray="3.6 2.2" stroke-linecap="butt"/>
<line x1="1320.2" y1="3436.0" x2="1320.2" y2="3762.0" stroke="#999999" stroke-width="3.6" stroke-dasharray="3.6 2.2" stroke-linecap="butt"/>
<line x1="1402.4" y1="2926.0" x2="1402.4" y2="3762.0" stroke="#999999" stroke-width="3.6" stroke-dasharray="3.6 2.2" stroke-linecap="butt"/>
<line x1="1510.6" y1="2931.0" x2="1510.6" y2="3762.0" stroke="#999999" stroke-width="3.6" stroke-dasharray="3.6 2.2" stroke-linecap="butt"/>
<g font-family="Liberation Serif, serif" font-size="100" fill="#000">
<text transform="matrix(0.6164 0 0 0.6524 827.33 129.31)" font-weight="normal">Q</text>
<text transform="matrix(0.4475 0 0 0.4308 870.31 91.90)" font-weight="normal">2</text>
<text transform="matrix(0.6139 0 0 0.6222 890.34 128.73)" font-weight="normal">(1Al)</text>
<text transform="matrix(0.6134 0 0 0.6488 1053.45 130.47)" font-weight="normal">Q</text>
<text transform="matrix(0.4375 0 0 0.4262 1095.75 92.80)" font-weight="normal">2</text>
<text transform="matrix(0.7265 0 0 0.7776 1660.99 653.24)" font-weight="normal">2.0</text>
<text transform="matrix(0.4725 0 0 0.4662 1750.11 683.10)" font-weight="normal">2</text>
<text transform="matrix(0.7035 0 0 0.7586 1771.99 654.14)" font-weight="normal">-3d-95</text>
<text transform="matrix(0.7265 0 0 0.7776 1674.09 967.24)" font-weight="normal">2.0</text>
<text transform="matrix(0.4725 0 0 0.4662 1763.21 997.10)" font-weight="normal">1</text>
<text transform="matrix(0.7035 0 0 0.7586 1785.09 968.14)" font-weight="normal">-3d-95</text>
<text transform="matrix(0.7265 0 0 0.7776 1685.99 1207.04)" font-weight="normal">2.0</text>
<text transform="matrix(0.4725 0 0 0.4662 1775.11 1236.90)" font-weight="normal">2</text>
<text transform="matrix(0.7035 0 0 0.7586 1796.99 1207.94)" font-weight="normal">-7d-60</text>
<text transform="matrix(0.7137 0 0 0.7879 652.33 1796.11)" font-weight="bold">Chemical shift</text>
<text transform="matrix(0.7731 0 0 0.7500 1111.91 1796.05)" font-weight="normal">(</text>
<text transform="matrix(0.4337 0 0 0.4552 1135.47 1755.19)" font-weight="bold">29</text>
<text transform="matrix(0.7062 0 0 0.7761 1179.47 1795.35)" font-weight="bold">Si/ ppm</text>
<text transform="matrix(0.7654 0 0 0.7533 1413.70 1796.08)" font-weight="normal">)</text>
<text transform="matrix(0.7296 0 0 0.7633 947.08 2005.57)" font-weight="normal">(<tspan font-weight="bold">a</tspan>)</text>
<text transform="matrix(0.6149 0 0 0.6610 890.34 2338.76)" font-weight="normal">Q</text>
<text transform="matrix(0.4250 0 0 0.3831 933.20 2303.80)" font-weight="normal">2</text>
<text transform="matrix(0.6164 0 0 0.6598 1000.33 2730.18)" font-weight="normal">Q</text>
<text transform="matrix(0.3707 0 0 0.3636 1042.95 2695.14)" font-weight="normal">3</text>
<text transform="matrix(0.6101 0 0 0.6089 1061.76 2729.31)" font-weight="normal">(1Al)</text>
<text transform="matrix(0.6119 0 0 0.6573 1206.45 2828.63)" font-weight="normal">Q</text>
<text transform="matrix(0.3659 0 0 0.3879 1249.17 2793.91)" font-weight="normal">3</text>
<text transform="matrix(0.6090 0 0 0.6537 1331.46 2898.39)" font-weight="normal">Q</text>
<text transform="matrix(0.3609 0 0 0.3769 1374.48 2863.80)" font-weight="normal">4</text>
<text transform="matrix(0.6111 0 0 0.6167 1392.66 2897.65)" font-weight="normal">(2Al)</text>
<text transform="matrix(0.6149 0 0 0.6524 1548.64 2855.31)" font-weight="normal">Q</text>
<text transform="matrix(0.3717 0 0 0.3769 1592.36 2820.70)" font-weight="normal">4</text>
<text transform="matrix(0.6111 0 0 0.6178 1609.36 2854.63)" font-weight="normal">(1Al)</text>
<text transform="matrix(0.7376 0 0 0.7806 1700.95 2912.54)" font-weight="normal">2.0</text>
<text transform="matrix(0.4350 0 0 0.4600 1792.16 2942.10)" font-weight="normal">2</text>
<text transform="matrix(0.7100 0 0 0.7600 1814.06 2913.44)" font-weight="normal">-7d-95</text>
<text transform="matrix(0.7376 0 0 0.7806 1700.95 3195.44)" font-weight="normal">1.0</text>
<text transform="matrix(0.4350 0 0 0.4600 1792.16 3225.00)" font-weight="normal">2</text>
<text transform="matrix(0.7100 0 0 0.7600 1814.06 3196.34)" font-weight="normal">-7d-95</text>
<text transform="matrix(0.7376 0 0 0.7806 1697.45 3527.14)" font-weight="normal">0.5</text>
<text transform="matrix(0.4350 0 0 0.4600 1788.66 3556.70)" font-weight="normal">2</text>
<text transform="matrix(0.7100 0 0 0.7600 1810.56 3528.04)" font-weight="normal">-7d-95</text>
<text transform="matrix(0.7233 0 0 0.8045 648.18 3993.20)" font-weight="bold">Chemical shift</text>
<text transform="matrix(0.7769 0 0 0.7633 1113.69 3992.57)" font-weight="normal">(</text>
<text transform="matrix(0.4424 0 0 0.4522 1137.43 3951.20)" font-weight="bold">29</text>
<text transform="matrix(0.7167 0 0 0.7955 1181.22 3992.61)" font-weight="bold">Si/ ppm</text>
<text transform="matrix(0.7731 0 0 0.7633 1418.38 3992.77)" font-weight="normal">)</text>
<text transform="matrix(0.7711 0 0 0.7856 942.82 4202.10)" font-weight="normal">(<tspan font-weight="bold">b</tspan>)</text>
<text transform="matrix(0.6504 0 0 0.7015 55.35 1659.40)" font-weight="normal">-20</text>
<text transform="matrix(0.6504 0 0 0.7015 346.61 1659.40)" font-weight="normal">-40</text>
<text transform="matrix(0.6504 0 0 0.7015 637.87 1659.40)" font-weight="normal">-60</text>
<text transform="matrix(0.6504 0 0 0.7015 929.13 1659.40)" font-weight="normal">-80</text>
<text transform="matrix(0.6504 0 0 0.7015 1204.13 1659.40)" font-weight="normal">-100</text>
<text transform="matrix(0.6504 0 0 0.7015 1495.39 1659.40)" font-weight="normal">-120</text>
<text transform="matrix(0.6504 0 0 0.7015 1786.65 1659.40)" font-weight="normal">-140</text>
<text transform="matrix(0.6576 0 0 0.6985 42.77 3855.30)" font-weight="normal">-60</text>
<text transform="matrix(0.6576 0 0 0.6985 362.77 3855.30)" font-weight="normal">-70</text>
<text transform="matrix(0.6576 0 0 0.6985 682.77 3855.30)" font-weight="normal">-80</text>
<text transform="matrix(0.6576 0 0 0.6985 1002.77 3855.30)" font-weight="normal">-90</text>
<text transform="matrix(0.6576 0 0 0.6985 1306.33 3855.30)" font-weight="normal">-100</text>
<text transform="matrix(0.6576 0 0 0.6985 1627.32 3855.30)" font-weight="normal">-110</text>
<text transform="matrix(0.6576 0 0 0.6985 1946.33 3855.30)" font-weight="normal">-120</text>
</g>
</svg></body></html>
